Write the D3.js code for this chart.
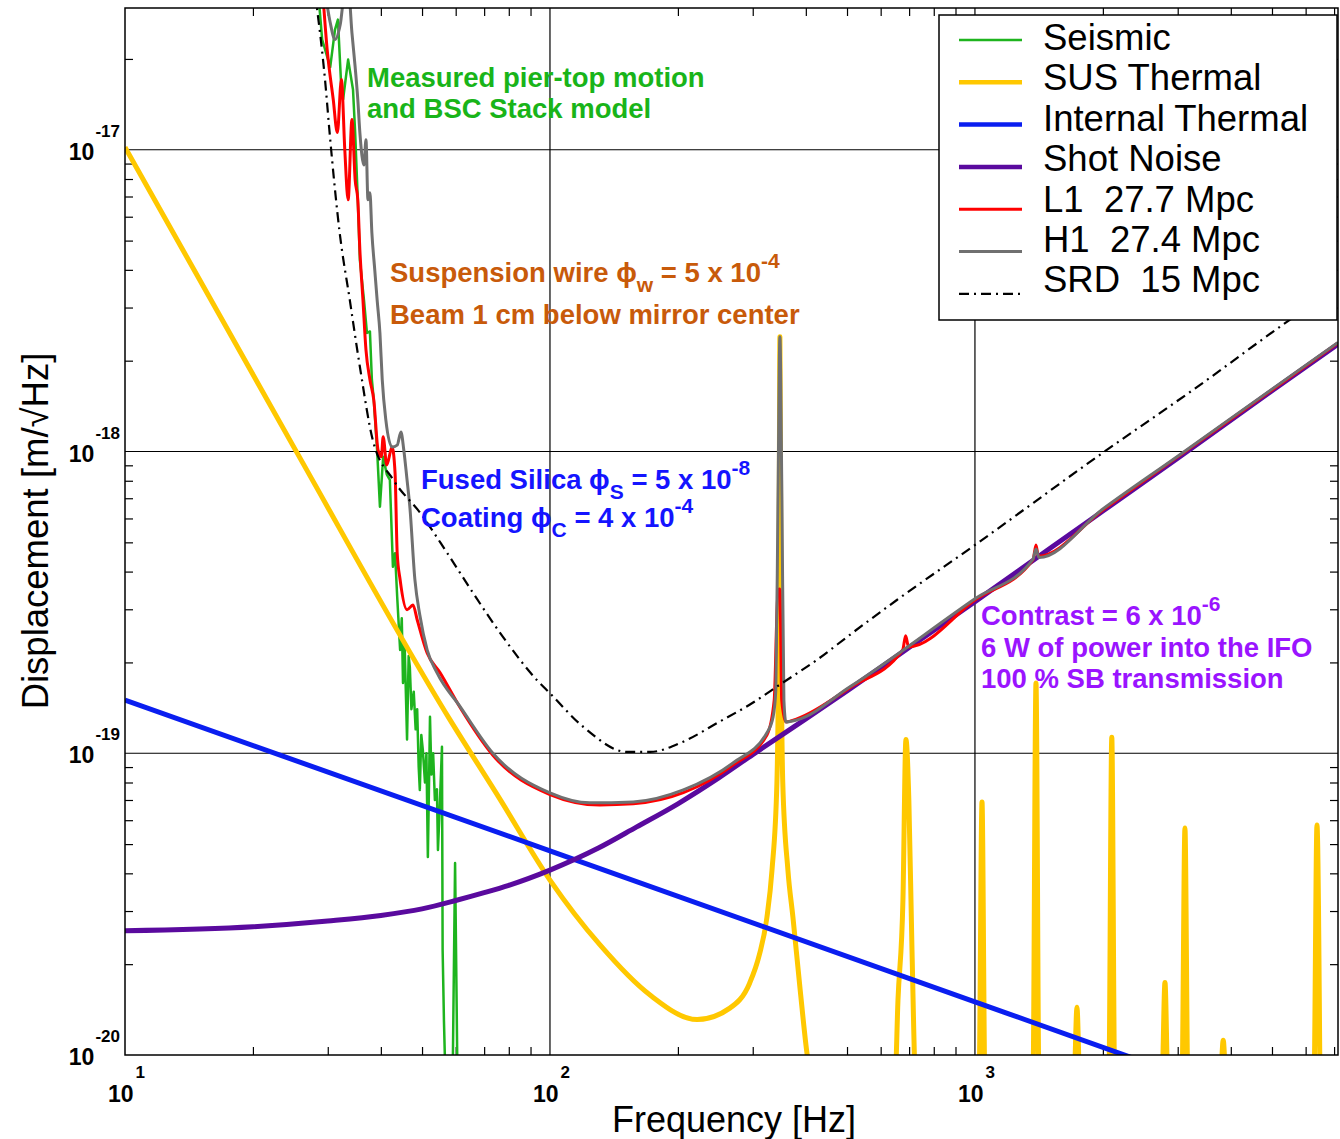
<!DOCTYPE html>
<html>
<head>
<meta charset="utf-8">
<script src="https://cdn.jsdelivr.net/npm/d3@7"></script>
<style>
  body { margin: 0; background: #fff; }
  svg { display: block; font-family: "Liberation Sans", Arial, Helvetica, sans-serif; }
</style>
</head>
<body>
<div id="chart"></div>
<script>
// noise curves, [frequency Hz, displacement m/rtHz]
const seismic = [
  [28.5, 3.3e-17], [29.1, 2.32e-17], [30.4, 1.88e-17], [31.2, 2.5e-17], [31.7, 2.7e-17],
  [32.3, 1.58e-17], [32.6, 1.47e-17], [33.5, 1.99e-17], [34.4, 1.58e-17], [34.8, 1.14e-17],
  [35.3, 6.83e-18], [35.7, 4.32e-18], [36.5, 3.18e-18], [37.1, 2.47e-18], [37.7, 2.5e-18],
  [38.1, 1.73e-18], [38.5, 1.48e-18], [39.2, 1.01e-18], [39.8, 6.56e-19], [40.5, 9.6e-19],
  [41.3, 8.4e-19], [42.0, 8.05e-19], [42.7, 4.15e-19], [43.2, 4.6e-19], [43.7, 3.3e-19],
  [44.4, 2.2e-19], [44.8, 2.8e-19], [45.1, 1.71e-19], [45.5, 2.3e-19], [46.1, 1.11e-19],
  [46.5, 2.1e-19], [46.8, 1.93e-19], [47.2, 1.4e-19], [47.8, 1.6e-19], [48.3, 1.2e-19],
  [48.7, 1.4e-19], [49.1, 9e-20], [49.4, 7.56e-20], [49.8, 1.15e-19], [50.2, 1.03e-19],
  [50.8, 8e-20], [51.2, 1.0e-19], [51.6, 4.53e-20], [52.0, 9e-20], [52.2, 1.32e-19],
  [52.6, 8.5e-20], [53.1, 1.0e-19], [53.6, 7e-20], [54.2, 7.6e-20], [54.5, 4.78e-20],
  [55.0, 6.5e-20], [55.7, 1.05e-19], [55.9, 2.23e-20], [56.3, 1.3e-20], [56.8, 8e-21],
  [59.0, 8e-21], [59.8, 4.33e-20], [60.6, 8e-21]
];

const susThermal = [
  [10, 1.02e-17], [25, 1.03e-18], [58, 1.3e-19], [76, 7.1e-20], [100, 3.8e-20],
  [131, 2.32e-20], [172, 1.58e-20], [222, 1.31e-20], [265, 1.43e-20], [295, 1.73e-20],
  [311, 2.15e-20], [324, 2.86e-20], [333, 4.1e-20], [342, 8.0e-20], [345.8, 3.2e-19],
  [347.6, 2.4e-18], [349.5, 3.2e-19], [353, 8.0e-20], [363, 4.1e-20], [373, 2.86e-20],
  [388, 1.64e-20], [403, 1.0e-20], [414, 8e-21],
  // violin mode harmonics
  [648, 8e-21], [659, 1.52e-20], [677, 3.27e-20], [688, 1.11e-19], [699, 7.0e-20], [711, 2.23e-20], [726, 8e-21],
  [1022, 8e-21], [1039, 6.9e-20], [1056, 8e-21],
  [1369, 8e-21], [1392, 1.71e-19], [1415, 8e-21],
  [1710, 8e-21], [1738, 1.44e-20], [1766, 8e-21],
  [2065, 8e-21], [2099, 1.13e-19], [2133, 8e-21],
  [2754, 8e-21], [2800, 1.74e-20], [2846, 8e-21],
  [3069, 8e-21], [3120, 5.65e-20], [3171, 8e-21],
  [3776, 8e-21], [3839, 1.12e-20], [3902, 8e-21],
  [6275, 8e-21], [6380, 5.78e-20], [6485, 8e-21]
];

const internalThermal = [[10, 1.5e-19], [100, 4.75e-20], [1000, 1.5e-20], [7150, 5.6e-21]];

const shotNoise = [
  [10, 2.58e-20], [20, 2.66e-20], [30, 2.78e-20], [40, 2.9e-20], [50, 3.05e-20],
  [60, 3.25e-20], [70, 3.45e-20], [80, 3.65e-20], [100, 4.1e-20], [130, 4.85e-20],
  [160, 5.7e-20], [200, 6.8e-20], [250, 8.3e-20], [300, 9.9e-20], [400, 1.3e-19],
  [500, 1.61e-19], [700, 2.24e-19], [1000, 3.18e-19], [1500, 4.77e-19], [2000, 6.35e-19],
  [3000, 9.5e-19], [5000, 1.59e-18], [7150, 2.27e-18]
];

const l1 = [
  [29.2, 3.3e-17], [29.9, 2.15e-17], [30.9, 1.47e-17], [31.6, 1.14e-17], [32.3, 1.71e-17],
  [32.9, 1.0e-17], [33.5, 6.83e-18], [34.2, 1.26e-17], [34.8, 7.95e-18], [35.3, 6.83e-18],
  [35.7, 4.66e-18], [36.3, 3.18e-18], [36.9, 2.17e-18], [37.7, 1.73e-18], [38.5, 1.48e-18],
  [39.4, 1.01e-18], [40.1, 9.6e-19], [40.5, 1.12e-18], [41.3, 9.03e-19], [42.5, 1.035e-18],
  [43.2, 8.5e-19], [43.7, 4.61e-19], [44.4, 3.76e-19], [46.1, 2.99e-19], [47.6, 3.1e-19],
  [48.7, 2.77e-19], [51.4, 2.15e-19], [55.1, 1.85e-19], [61.4, 1.42e-19], [73.4, 9.85e-20],
  [100, 7.3e-20], [131, 6.74e-20], [157, 6.8e-20], [206, 7.4e-20], [270, 9.15e-20],
  [324, 1.15e-19], [337, 1.5e-19], [344, 3.48e-19], [347.6, 3.5e-19], [351, 1.5e-19],
  [359, 1.27e-19], [381, 1.3e-19], [508, 1.65e-19], [676, 2.2e-19], [687, 2.45e-19],
  [698, 2.25e-19], [1000, 3.22e-19], [1370, 4.38e-19], [1392, 4.9e-19], [1410, 4.5e-19],
  [2000, 6.4e-19], [3000, 9.6e-19], [5000, 1.6e-18], [7150, 2.29e-18]
];

const h1 = [
  [29.6, 3.3e-17], [30.4, 2.64e-17], [31.2, 2.32e-17], [32.1, 2.6e-17], [32.9, 3.3e-17],
  [33.6, 3.3e-17], [34.2, 2.44e-17], [34.8, 1.88e-17], [35.3, 1.47e-17], [35.7, 1.14e-17],
  [36.5, 8.9e-18], [36.9, 1.08e-17], [37.3, 6.83e-18], [37.7, 7.2e-18], [38.1, 5.31e-18],
  [38.7, 4.0e-18], [39.2, 3.18e-18], [39.8, 2.47e-18], [40.3, 1.73e-18], [41.1, 1.27e-18],
  [42.5, 1.035e-18], [43.7, 1.05e-18], [44.6, 1.16e-18], [45.3, 1.01e-18], [46.1, 8.05e-19],
  [46.8, 6.56e-19], [48.1, 3.76e-19], [49.4, 2.87e-19], [51.4, 2.2e-19], [54.2, 1.85e-19],
  [61.4, 1.43e-19], [73.4, 1.0e-19], [100, 7.39e-20], [124, 6.85e-20], [157, 6.9e-20],
  [206, 7.56e-20], [270, 9.3e-20], [324, 1.17e-19], [335, 1.32e-19], [340, 1.62e-19],
  [344, 6.9e-19], [347.6, 2.4e-18], [351.4, 6.9e-19], [355.2, 1.5e-19], [359, 1.27e-19],
  [381, 1.29e-19], [508, 1.66e-19], [1000, 3.25e-19], [1370, 4.4e-19], [1392, 4.75e-19],
  [1415, 4.45e-19], [2000, 6.45e-19], [3000, 9.65e-19], [5000, 1.61e-18], [7150, 2.3e-18]
];

const srd = [
  [28, 3.3e-17], [29.6, 1.67e-17], [30.3, 1.14e-17], [32.0, 5.31e-18], [33.8, 3.18e-18],
  [35.7, 1.91e-18], [38.3, 1.09e-18], [42.8, 8.05e-19], [49.5, 6.26e-19], [57.3, 4.61e-19],
  [65.9, 3.4e-19], [77.5, 2.43e-19], [93.1, 1.75e-19], [100, 1.58e-19], [120, 1.22e-19],
  [152, 1.01e-19], [172, 1.01e-19], [205, 1.09e-19], [250, 1.27e-19], [300, 1.47e-19],
  [350, 1.7e-19], [425, 2.04e-19], [508, 2.47e-19], [655, 3.22e-19], [1000, 4.9e-19],
  [1968, 9.75e-19], [3381, 1.66e-18], [5505, 2.73e-18], [7150, 3.5e-18]
];

const legendLabels = ["Seismic", "SUS Thermal", "Internal Thermal", "Shot Noise",
  "L1  27.7 Mpc", "H1  27.4 Mpc", "SRD  15 Mpc"];

const xDecades = [10, 100, 1000];
const yDecades = [1e-20, 1e-19, 1e-18, 1e-17];
const xDomain = [10, 7150];
const yDomain = [1e-20, 2.95e-17];

// styles for each curve, same order as the legend
const series = [
  { data: seismic, color: "#1eb41e", width: 2.5, curve: d3.curveLinear },
  { data: susThermal, color: "#ffc800", width: 5, curve: d3.curveMonotoneX },
  { data: internalThermal, color: "#0a1ef0", width: 5, curve: d3.curveLinear },
  { data: shotNoise, color: "#5a0a9e", width: 5, curve: d3.curveMonotoneX },
  { data: l1, color: "#ff0000", width: 3, curve: d3.curveMonotoneX },
  { data: h1, color: "#707070", width: 3, curve: d3.curveMonotoneX },
  { data: srd, color: "#000000", width: 2.2, curve: d3.curveMonotoneX, dash: "10,5,2,5" }
];

const W = 1340, H = 1139;
const plot = { left: 125, right: 1338, top: 8, bottom: 1055 };

const svg = d3.select("#chart").append("svg")
  .attr("width", W)
  .attr("height", H);

svg.append("rect").attr("width", W).attr("height", H).attr("fill", "#fff");

const x = d3.scaleLog().domain(xDomain).range([plot.left, plot.right]);
const y = d3.scaleLog().domain(yDomain).range([plot.bottom, plot.top]);

const minorX = x.ticks().filter(d => !xDecades.includes(d) && d < xDomain[1]);
const minorY = y.ticks().filter(d => !yDecades.some(v => Math.abs(v - d) / v < 1e-6));

// decade grid lines
svg.append("g")
  .selectAll("line")
  .data(xDecades.filter(d => d > xDomain[0]))
  .join("line")
  .attr("x1", d => x(d)).attr("x2", d => x(d))
  .attr("y1", plot.top).attr("y2", plot.bottom)
  .attr("stroke", "#000").attr("stroke-width", 1.2);

svg.append("g")
  .selectAll("line")
  .data(yDecades.filter(d => d > yDomain[0]))
  .join("line")
  .attr("x1", plot.left).attr("x2", plot.right)
  .attr("y1", d => y(d)).attr("y2", d => y(d))
  .attr("stroke", "#000").attr("stroke-width", 1.2);

// minor ticks on all four sides, pointing inward
const tickLen = 8;
const axes = [
  [d3.axisBottom(x).tickValues(minorX), `translate(0,${plot.bottom})`],
  [d3.axisTop(x).tickValues(minorX), `translate(0,${plot.top})`],
  [d3.axisLeft(y).tickValues(minorY), `translate(${plot.left},0)`],
  [d3.axisRight(y).tickValues(minorY), `translate(${plot.right},0)`]
];
axes.forEach(([ax, tr]) => {
  const g = svg.append("g").attr("transform", tr)
    .call(ax.tickSize(-tickLen).tickFormat(""));
  g.select(".domain").remove();
  g.selectAll("line").attr("stroke", "#000").attr("stroke-width", 1.2);
});

// curves
svg.append("clipPath").attr("id", "clip")
  .append("rect")
  .attr("x", plot.left).attr("y", plot.top)
  .attr("width", plot.right - plot.left).attr("height", plot.bottom - plot.top);

const curves = svg.append("g").attr("clip-path", "url(#clip)");
series.forEach(s => {
  const line = d3.line()
    .x(d => x(d[0]))
    .y(d => y(d[1]))
    .curve(s.curve);
  curves.append("path")
    .datum(s.data)
    .attr("fill", "none")
    .attr("stroke", s.color)
    .attr("stroke-width", s.width)
    .attr("stroke-linejoin", "round")
    .attr("stroke-dasharray", s.dash || null)
    .attr("d", line);
});

// frame
svg.append("rect")
  .attr("x", plot.left).attr("y", plot.top)
  .attr("width", plot.right - plot.left).attr("height", plot.bottom - plot.top)
  .attr("fill", "none").attr("stroke", "#000").attr("stroke-width", 1.5);

// tick labels: 10 with exponent
svg.append("g")
  .selectAll("text")
  .data(xDecades)
  .join("text")
  .attr("x", d => x(d) - 17)
  .attr("y", plot.bottom + 47)
  .attr("font-size", 23)
  .attr("font-weight", "bold")
  .each(function (d) {
    const t = d3.select(this);
    t.append("tspan").text("10");
    t.append("tspan").attr("dy", -24).attr("dx", 2).attr("font-size", 17).text(Math.round(Math.log10(d)));
  });

svg.append("g")
  .selectAll("text")
  .data(yDecades)
  .join("text")
  .attr("x", plot.left - 5)
  .attr("y", d => y(d) + 10)
  .attr("text-anchor", "end")
  .attr("font-size", 23)
  .attr("font-weight", "bold")
  .each(function (d) {
    const t = d3.select(this);
    t.append("tspan").text("10");
    t.append("tspan").attr("dy", -23).attr("dx", 1).attr("font-size", 17).text(Math.round(Math.log10(d)));
  });

// axis titles
svg.append("text")
  .attr("x", 734).attr("y", 1132)
  .attr("text-anchor", "middle")
  .attr("font-size", 36)
  .text("Frequency [Hz]");

svg.append("text")
  .attr("transform", "translate(48,531) rotate(-90)")
  .attr("text-anchor", "middle")
  .attr("font-size", 36.5)
  .text("Displacement [m/\u221AHz]");

// annotations with sub/superscripts
function richText(px, py, color, parts) {
  const t = svg.append("text")
    .attr("x", px).attr("y", py)
    .attr("fill", color)
    .attr("font-size", 27.5)
    .attr("font-weight", "bold")
    .style("white-space", "pre");
  let shift = 0;
  parts.forEach(p => {
    const target = p.sub ? 10 : p.sup ? -14 : 0;
    t.append("tspan")
      .attr("dy", target - shift)
      .attr("font-size", (p.sub || p.sup) ? 21 : null)
      .text(p.t);
    shift = target;
  });
}

richText(367, 87, "#19b419", [{ t: "Measured pier-top motion" }]);
richText(367, 118, "#19b419", [{ t: "and BSC Stack model" }]);
richText(390, 282, "#c85a0a", [{ t: "Suspension wire \u03D5" }, { t: "w", sub: true }, { t: " = 5 x 10" }, { t: "-4", sup: true }]);
richText(390, 324, "#c85a0a", [{ t: "Beam 1 cm below mirror center" }]);
richText(421, 489, "#1414ff", [{ t: "Fused Silica \u03D5" }, { t: "S", sub: true }, { t: " = 5 x 10" }, { t: "-8", sup: true }]);
richText(421, 527, "#1414ff", [{ t: "Coating \u03D5" }, { t: "C", sub: true }, { t: " = 4 x 10" }, { t: "-4", sup: true }]);
richText(981, 625, "#9a14ff", [{ t: "Contrast = 6 x 10" }, { t: "-6", sup: true }]);
richText(981, 657, "#9a14ff", [{ t: "6 W of power into the IFO" }]);
richText(981, 688, "#9a14ff", [{ t: "100 % SB transmission" }]);

// legend
const legend = svg.append("g");
legend.append("rect")
  .attr("x", 939).attr("y", 15)
  .attr("width", 398).attr("height", 305)
  .attr("fill", "#fff").attr("stroke", "#000").attr("stroke-width", 1.5);

legendLabels.forEach((label, i) => {
  const s = series[i];
  const ly = 40 + i * 42.3;
  legend.append("line")
    .attr("x1", 959).attr("x2", 1022)
    .attr("y1", ly).attr("y2", ly)
    .attr("stroke", s.color)
    .attr("stroke-width", Math.min(s.width, 4.5))
    .attr("stroke-dasharray", s.dash || null);
  legend.append("text")
    .attr("x", 1043).attr("y", 50 + i * 40.4)
    .attr("font-size", 36.5)
    .style("white-space", "pre")
    .text(label);
});
</script>
</body>
</html>
